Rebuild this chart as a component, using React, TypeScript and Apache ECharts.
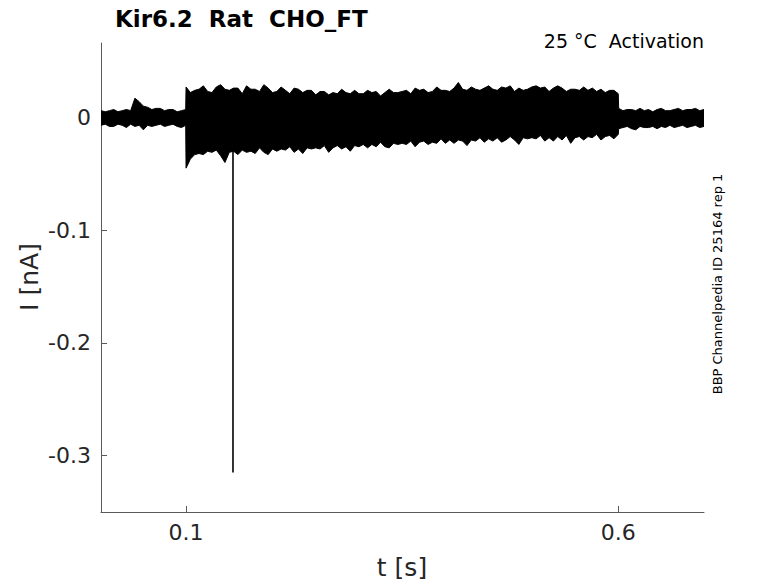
import React, { useEffect, useRef } from "react";
import * as echarts from "echarts";

// Axis ticks
const xTicks = [0.1, 0.6];
const yTicks = [0, -0.1, -0.2, -0.3];

// Envelope of the overlaid current traces, in pA
// Holding period before the step (t = 0.0016 .. 0.0996 s)
const preUpper = [6, 5, 6, 7, 5, 6, 7, 6, 17, 14, 10, 9, 7, 8, 8, 6, 7, 7, 5, 6, 7];
const preLower = [-7, -6, -8, -8, -6, -7, -9, -6, -8, -7, -11, -7, -8, -7, -6, -8, -7, -6, -8, -9, -7];
// Test step (t = 0.100 .. 0.600 s, every 5 ms)
const stepUpper = [
  27, 22, 24, 25, 28, 23, 22, 27, 29, 25, 24,
  26, 26, 21, 28, 25, 25, 23, 29, 26, 22,
  23, 27, 24, 21, 26, 25, 22, 24, 24, 20,
  23, 23, 20, 22, 21, 25, 22, 21, 24, 21,
  21, 24, 22, 23, 19, 22, 25, 22, 22, 23,
  24, 21, 26, 24, 25, 22, 23, 27, 24, 24,
  23, 26, 31, 25, 24, 27, 25, 24, 26, 28,
  25, 24, 27, 26, 28, 23, 26, 24, 25, 27,
  28, 26, 27, 23, 26, 28, 26, 23, 25, 25,
  24, 27, 24, 26, 23, 25, 22, 24, 24, 21,
];
const stepLower = [
  -45, -37, -33, -32, -33, -30, -31, -29, -34, -40, -31,
  -30, -33, -29, -31, -30, -32, -27, -31, -33, -28,
  -30, -28, -29, -26, -31, -28, -32, -27, -28, -27,
  -28, -25, -31, -27, -25, -28, -26, -30, -25, -26,
  -24, -27, -24, -26, -22, -26, -27, -23, -24, -23,
  -24, -21, -26, -22, -21, -24, -22, -23, -19, -23,
  -20, -23, -20, -21, -25, -20, -21, -18, -22, -19,
  -21, -18, -22, -20, -17, -20, -24, -18, -19, -18,
  -19, -16, -21, -18, -21, -17, -20, -16, -23, -18,
  -17, -20, -17, -18, -15, -20, -17, -16, -19, -15,
];
// After the step (t = 0.6005 .. 0.6992 s)
const postUpper = [8, 6, 7, 7, 6, 8, 6, 7, 5, 7, 8, 6, 6, 7, 8, 6, 7, 7, 8, 6, 7];
const postLower = [-10, -9, -8, -10, -11, -8, -9, -9, -8, -10, -8, -9, -7, -9, -8, -7, -9, -8, -7, -9, -8];

// Single large inward transient in one sweep
const spikeTime = 0.1543;
const spikeTop = -0.018;
const spikeBottom = -0.315;

const X_MIN = 0.0016;
const X_MAX = 0.6992;
const Y_MIN = -0.35;
const Y_MAX = 0.066;

function onGrid(start: number, end: number, vals: number[]): number[][] {
  const n = vals.length;
  return vals.map((v, i) => [start + ((end - start) * i) / (n - 1), v / 1000]);
}

const FONT = "DejaVu Sans";
const AXIS_COLOR = "#5a5a5a";

export default function App() {
  const ref = useRef<HTMLDivElement>(null);
  useEffect(() => {
    if (!ref.current) return;
    const chart = echarts.init(ref.current, undefined, { renderer: "svg" });

    const upper = [
      ...onGrid(X_MIN, 0.0996, preUpper),
      ...onGrid(0.1, 0.6, stepUpper),
      ...onGrid(0.6005, X_MAX, postUpper),
    ];
    const lower = [
      ...onGrid(X_MIN, 0.0996, preLower),
      ...onGrid(0.1, 0.6, stepLower),
      ...onGrid(0.6005, X_MAX, postLower),
    ];
    const band = [...upper, ...lower.slice().reverse()];

    chart.setOption({
      animation: false,
      grid: { left: 101, top: 43, right: 74, bottom: 71, containLabel: false },
      xAxis: {
        type: "value",
        min: X_MIN,
        max: X_MAX,
        axisLine: { show: true, onZero: false, lineStyle: { color: AXIS_COLOR, width: 1 } },
        axisTick: { show: true, inside: true, length: 6, customValues: xTicks, lineStyle: { color: AXIS_COLOR } },
        axisLabel: {
          customValues: xTicks,
          fontSize: 22,
          fontFamily: FONT,
          color: "#262626",
          margin: 9,
          formatter: (v: number) => String(v),
        },
        splitLine: { show: false },
      },
      yAxis: {
        type: "value",
        min: Y_MIN,
        max: Y_MAX,
        axisLine: { show: true, onZero: false, lineStyle: { color: AXIS_COLOR, width: 1 } },
        axisTick: { show: true, inside: true, length: 6, customValues: yTicks, lineStyle: { color: AXIS_COLOR } },
        axisLabel: {
          customValues: yTicks,
          fontSize: 22,
          fontFamily: FONT,
          color: "#262626",
          margin: 10,
          formatter: (v: number) => (v === 0 ? "0" : String(v)),
        },
        splitLine: { show: false },
      },
      series: [
        {
          type: "custom",
          data: [[0.35, 0]],
          clip: true,
          renderItem: (_params: any, api: any) => {
            const pts = band.map((p) => api.coord(p));
            return {
              type: "polygon",
              shape: { points: pts },
              style: { fill: "#000", stroke: "#000", lineWidth: 1, lineJoin: "bevel" },
            };
          },
          silent: true,
        },
        {
          type: "line",
          data: [
            [spikeTime, spikeTop],
            [spikeTime, spikeBottom],
          ],
          symbol: "none",
          lineStyle: { color: "#000", width: 1.6 },
          silent: true,
        },
      ],
      graphic: [
        {
          type: "text",
          x: 115,
          y: 19,
          style: {
            text: "Kir6.2  Rat  CHO_FT",
            fontSize: 23,
            fontWeight: "bold",
            fontFamily: FONT,
            fill: "#000",
            align: "left",
            verticalAlign: "middle",
          },
        },
        {
          type: "text",
          x: 704,
          y: 41,
          style: {
            text: "25 °C  Activation",
            fontSize: 19,
            fontFamily: FONT,
            fill: "#000",
            align: "right",
            verticalAlign: "middle",
          },
        },
        {
          type: "text",
          x: 717,
          y: 284,
          rotation: Math.PI / 2,
          style: {
            text: "BBP Channelpedia ID 25164 rep 1",
            fontSize: 13,
            fontFamily: FONT,
            fill: "#000",
            align: "center",
            verticalAlign: "middle",
          },
        },
        {
          type: "text",
          x: 29,
          y: 277,
          rotation: Math.PI / 2,
          style: {
            text: "I [nA]",
            fontSize: 25,
            fontFamily: FONT,
            fill: "#262626",
            align: "center",
            verticalAlign: "middle",
          },
        },
        {
          type: "text",
          x: 402,
          y: 567,
          style: {
            text: "t [s]",
            fontSize: 25,
            fontFamily: FONT,
            fill: "#262626",
            align: "center",
            verticalAlign: "middle",
          },
        },
      ],
    });
    return () => chart.dispose();
  }, []);

  return (
    <div
      ref={ref}
      style={{ position: "fixed", left: 0, top: 0, width: 778, height: 583, background: "#fff" }}
    />
  );
}
